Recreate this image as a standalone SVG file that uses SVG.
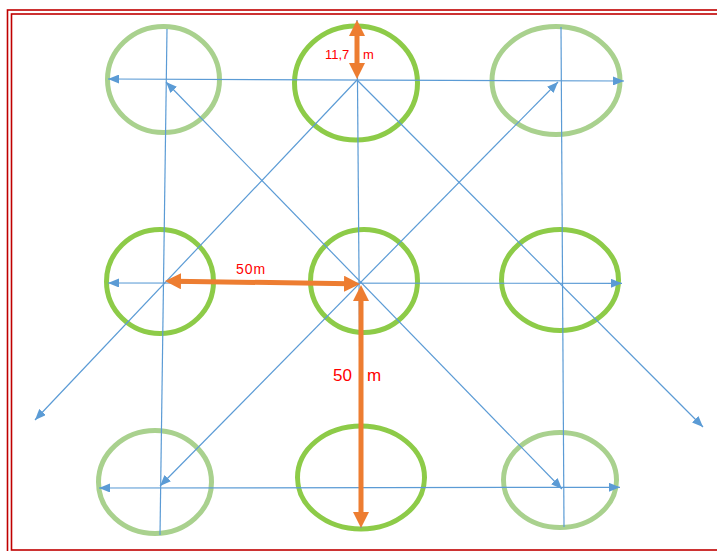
<svg xmlns="http://www.w3.org/2000/svg" width="717" height="551" viewBox="0 0 717 551">
<style>
.frame{fill:none;stroke:#c00000;stroke-width:1.6}
.light{fill:none;stroke:#a9d18e;stroke-width:5}
.bright{fill:none;stroke:#8dcb48;stroke-width:5}
.blue{fill:none;stroke:#5b9bd5;stroke-width:1.2}
.orange{fill:none;stroke:#ed7d31;stroke-width:5}
.lbl{font-family:"Liberation Sans",Arial,sans-serif;fill:#ff0000}
</style>
<defs>
<marker id="ba" markerUnits="userSpaceOnUse" markerWidth="11" markerHeight="9" viewBox="0 0 11 9" refX="11" refY="4.5" orient="auto-start-reverse">
<path d="M0,0 L11,4.5 L0,9 z" fill="#5b9bd5"/>
</marker>
<marker id="oa" markerUnits="userSpaceOnUse" markerWidth="16" markerHeight="16" viewBox="0 0 16 16" refX="6" refY="8" orient="auto-start-reverse">
<path d="M0,0 L16,8 L0,16 z" fill="#ed7d31"/>
</marker>
</defs>
<rect width="717" height="551" fill="#ffffff"/>
<rect class="frame" x="7.5" y="10" width="730" height="560"/>
<rect class="frame" x="11.5" y="14" width="730" height="536"/>

<g id="node-tl"><ellipse class="light" cx="163.5" cy="79.5" rx="56" ry="53"/></g>
<g id="node-tm"><ellipse class="bright" cx="356" cy="83" rx="61.5" ry="57"/></g>
<g id="node-tr"><ellipse class="light" cx="556" cy="80.5" rx="64" ry="54"/></g>
<g id="node-ml"><ellipse class="bright" cx="160" cy="281.5" rx="53.5" ry="52"/></g>
<g id="node-mm"><ellipse class="bright" cx="364" cy="281" rx="53.5" ry="51.5"/></g>
<g id="node-mr"><ellipse class="bright" cx="560" cy="280" rx="58.5" ry="50.5"/></g>
<g id="node-bl"><ellipse class="light" cx="155" cy="482" rx="56.5" ry="51.5"/></g>
<g id="node-bm"><ellipse class="bright" cx="361" cy="477.5" rx="63.5" ry="51.5"/></g>
<g id="node-br"><ellipse class="light" cx="560" cy="480" rx="56.5" ry="47.5"/></g>

<g id="connectors">
<line class="blue" x1="108" y1="79" x2="624" y2="81" marker-start="url(#ba)" marker-end="url(#ba)"/>
<line class="blue" x1="108" y1="283" x2="622" y2="283.3" marker-start="url(#ba)" marker-end="url(#ba)"/>
<line class="blue" x1="99" y1="488" x2="620" y2="487.3" marker-start="url(#ba)" marker-end="url(#ba)"/>
<line class="blue" x1="167" y1="29" x2="160" y2="535"/>
<line class="blue" x1="357" y1="20" x2="361" y2="528"/>
<line class="blue" x1="561" y1="27" x2="564" y2="527"/>
<line class="blue" x1="357" y1="80" x2="35" y2="420" marker-end="url(#ba)"/>
<line class="blue" x1="357" y1="80" x2="703" y2="427" marker-end="url(#ba)"/>
<line class="blue" x1="166" y1="82" x2="562" y2="489" marker-start="url(#ba)" marker-end="url(#ba)"/>
<line class="blue" x1="160" y1="486" x2="558" y2="82" marker-start="url(#ba)" marker-end="url(#ba)"/>
<line class="orange" x1="357" y1="30" x2="357" y2="69" marker-start="url(#oa)" marker-end="url(#oa)"/>
<line class="orange" x1="175" y1="281.2" x2="350" y2="283.8" marker-start="url(#oa)" marker-end="url(#oa)"/>
<line class="orange" x1="361" y1="295" x2="361" y2="518" marker-start="url(#oa)" marker-end="url(#oa)"/>
</g>

<g id="labels">
<text class="lbl" x="325" y="59" font-size="13">11,7</text>
<text class="lbl" x="363" y="59" font-size="13">m</text>
<text class="lbl" x="236" y="274" font-size="14" letter-spacing="1">50m</text>
<text class="lbl" x="333" y="381" font-size="17">50</text>
<text class="lbl" x="367" y="381" font-size="17">m</text>
</g>
</svg>
